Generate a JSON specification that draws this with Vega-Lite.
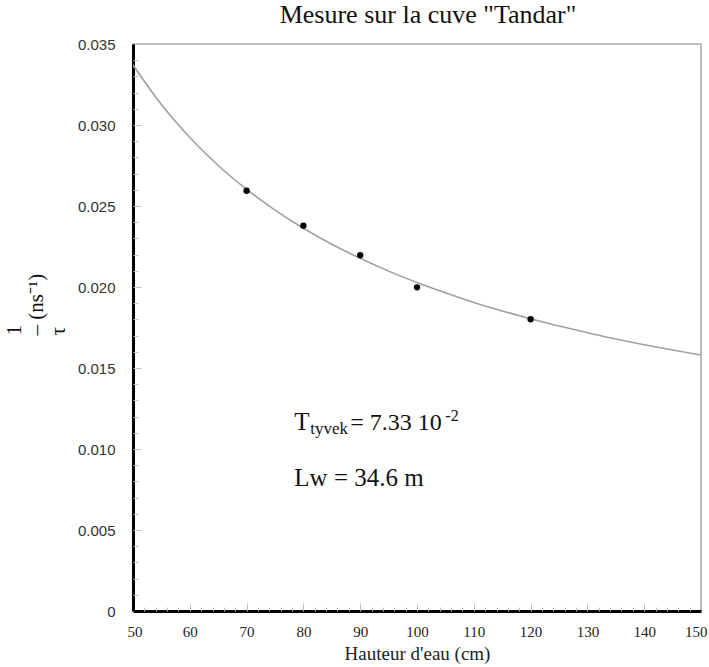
{
  "$schema": "https://vega.github.io/schema/vega-lite/v6.json",
  "width": 568,
  "height": 567,
  "autosize": {"type": "none"},
  "padding": {"left": 133, "top": 44, "right": 8, "bottom": 56},
  "background": "white",
  "config": {
    "view": {"stroke": "#a8a8a8", "strokeWidth": 1.5},
    "axis": {"grid": false}
  },
  "title": {
    "text": "Mesure sur la cuve \"Tandar\"",
    "font": "Liberation Serif",
    "fontSize": 26,
    "fontWeight": "normal",
    "color": "#111",
    "anchor": "middle",
    "frame": "group",
    "offset": 9,
    "dx": 11
  },
  "datasets": {
    "curve": [
      {"h": 50, "v": 0.03370}, {"h": 55, "v": 0.03126}, {"h": 60, "v": 0.02923},
      {"h": 65, "v": 0.02750}, {"h": 70, "v": 0.02603}, {"h": 75, "v": 0.02475},
      {"h": 80, "v": 0.02363}, {"h": 85, "v": 0.02264}, {"h": 90, "v": 0.02177},
      {"h": 95, "v": 0.02098}, {"h": 100, "v": 0.02028}, {"h": 105, "v": 0.01964},
      {"h": 110, "v": 0.01905}, {"h": 115, "v": 0.01852}, {"h": 120, "v": 0.01804},
      {"h": 125, "v": 0.01759}, {"h": 130, "v": 0.01718}, {"h": 135, "v": 0.01679},
      {"h": 140, "v": 0.01644}, {"h": 145, "v": 0.01611}, {"h": 150, "v": 0.01580}
    ],
    "points": [
      {"h": 70, "v": 0.02594}, {"h": 80, "v": 0.02378}, {"h": 90, "v": 0.02196},
      {"h": 100, "v": 0.01998}, {"h": 120, "v": 0.01801}
    ]
  },
  "resolve": {"axis": {"x": "independent", "y": "independent"}},
  "layer": [
    {
      "data": {"name": "curve"},
      "mark": {"type": "line", "color": "#a0a0a0", "strokeWidth": 1.6, "interpolate": "monotone", "clip": true},
      "encoding": {
        "x": {
          "field": "h", "type": "quantitative",
          "scale": {"domain": [50, 150], "nice": false, "zero": false},
          "axis": {
            "orient": "bottom",
            "values": [50, 60, 70, 80, 90, 100, 110, 120, 130, 140, 150],
            "ticks": false,
            "domainColor": "#000", "domainWidth": 3,
            "labelFont": "Liberation Serif", "labelFontSize": 15, "labelColor": "#222",
            "labelPadding": 13, "labelFlush": true, "labelFlushOffset": 6,
            "title": "Hauteur d'eau (cm)",
            "titleFont": "Liberation Serif", "titleFontSize": 19, "titleFontWeight": "normal",
            "titleColor": "#222", "titlePadding": 5
          }
        },
        "y": {
          "field": "v", "type": "quantitative",
          "scale": {"domain": [0, 0.035], "nice": false},
          "axis": {
            "orient": "left",
            "values": [0, 0.005, 0.01, 0.015, 0.02, 0.025, 0.03, 0.035],
            "labelExpr": "datum.value == 0 ? '0' : format(datum.value, '.3f')",
            "ticks": false,
            "domainColor": "#000", "domainWidth": 3,
            "labelFont": "Liberation Sans Narrow, Liberation Sans", "labelFontSize": 15, "labelColor": "#333",
            "labelPadding": 18, "labelFlush": false,
            "title": ["1", "\u2013   (ns\u207b\u00b9)", "\u03c4"],
            "titleFont": "Liberation Serif", "titleFontSize": 21, "titleFontWeight": "normal",
            "titleColor": "#111", "titleAlign": "left", "titleBaseline": "bottom", "titleLineHeight": 22,
            "titleX": -109, "titleY": 291
          }
        }
      }
    },
    {
      "data": {"name": "points"},
      "mark": {"type": "circle", "color": "#000", "opacity": 1, "size": 40},
      "encoding": {
        "x": {
          "field": "h", "type": "quantitative",
          "axis": {
            "orient": "bottom",
            "values": [52, 54, 56, 58, 62, 64, 66, 68, 72, 74, 76, 78, 82, 84, 86, 88, 92, 94, 96, 98, 102, 104, 106, 108, 112, 114, 116, 118, 122, 124, 126, 128, 132, 134, 136, 138, 142, 144, 146, 148],
            "labels": false, "domain": false, "title": null,
            "tickSize": -4, "tickColor": "#c4c4c4", "tickWidth": 1
          }
        },
        "y": {
          "field": "v", "type": "quantitative",
          "axis": {
            "orient": "left",
            "values": [0.001, 0.002, 0.003, 0.004, 0.006, 0.007, 0.008, 0.009, 0.011, 0.012, 0.013, 0.014, 0.016, 0.017, 0.018, 0.019, 0.021, 0.022, 0.023, 0.024, 0.026, 0.027, 0.028, 0.029, 0.031, 0.032, 0.033, 0.034],
            "labels": false, "domain": false, "title": null,
            "tickSize": -5, "tickColor": "#c4c4c4", "tickWidth": 1
          }
        }
      }
    },
    {
      "data": {"values": [{}]},
      "mark": {"type": "text", "align": "left", "baseline": "alphabetic", "font": "Liberation Serif", "fontSize": 25, "color": "#111"},
      "encoding": {
        "x": {
          "datum": 78.4, "type": "quantitative",
          "axis": {
            "orient": "bottom",
            "values": [60, 70, 80, 90, 100, 110, 120, 130, 140],
            "labels": false, "domain": false, "title": null,
            "tickSize": -8, "tickColor": "#c4c4c4", "tickWidth": 1
          }
        },
        "y": {
          "datum": 0.0112, "type": "quantitative",
          "axis": {
            "orient": "left",
            "values": [0.005, 0.01, 0.015, 0.02, 0.025, 0.03],
            "labels": false, "domain": false, "title": null,
            "tickSize": -8, "tickColor": "#c4c4c4", "tickWidth": 1
          }
        },
        "text": {"value": "T"}
      }
    },
    {
      "data": {"values": [{}]},
      "mark": {"type": "text", "align": "left", "baseline": "alphabetic", "font": "Liberation Serif", "fontSize": 17, "color": "#111", "dx": 16, "dy": 4},
      "encoding": {
        "x": {"datum": 78.4, "type": "quantitative", "axis": null},
        "y": {"datum": 0.0112, "type": "quantitative", "axis": null},
        "text": {"value": "tyvek"}
      }
    },
    {
      "data": {"values": [{}]},
      "mark": {"type": "text", "align": "left", "baseline": "alphabetic", "font": "Liberation Serif", "fontSize": 24, "color": "#111", "dx": 56},
      "encoding": {
        "x": {"datum": 78.4, "type": "quantitative", "axis": null},
        "y": {"datum": 0.0112, "type": "quantitative", "axis": null},
        "text": {"value": "= 7.33 10"}
      }
    },
    {
      "data": {"values": [{}]},
      "mark": {"type": "text", "align": "left", "baseline": "alphabetic", "font": "Liberation Serif", "fontSize": 16, "color": "#111", "dx": 151, "dy": -9},
      "encoding": {
        "x": {"datum": 78.4, "type": "quantitative", "axis": null},
        "y": {"datum": 0.0112, "type": "quantitative", "axis": null},
        "text": {"value": "-2"}
      }
    },
    {
      "data": {"values": [{}]},
      "mark": {"type": "text", "align": "left", "baseline": "alphabetic", "font": "Liberation Serif", "fontSize": 25, "color": "#111"},
      "encoding": {
        "x": {"datum": 78.4, "type": "quantitative", "axis": null},
        "y": {"datum": 0.0077, "type": "quantitative", "axis": null},
        "text": {"value": "Lw = 34.6 m"}
      }
    }
  ]
}
